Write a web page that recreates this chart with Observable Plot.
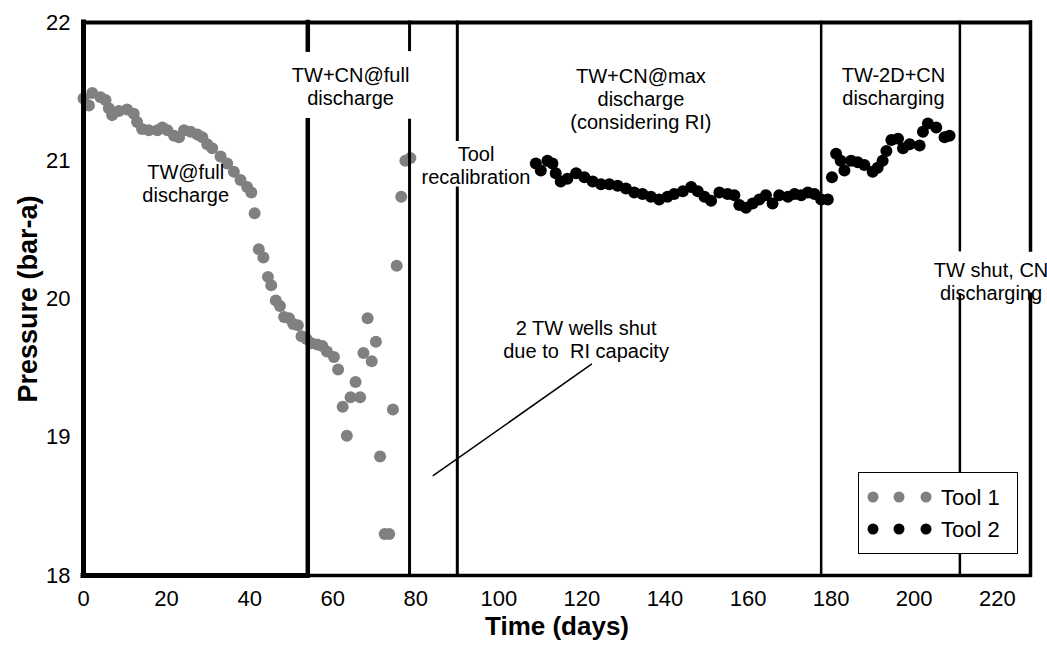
<!DOCTYPE html>
<html>
<head>
<meta charset="utf-8">
<script src="https://cdn.jsdelivr.net/npm/d3@7"></script>
<script src="https://cdn.jsdelivr.net/npm/@observablehq/plot@0.6"></script>
<style>
  html, body { margin: 0; padding: 0; background: white; }
  #wrap { position: relative; width: 1047px; height: 646px; font-family: "Liberation Sans", Arial, sans-serif; }
  #legend { position: absolute; left: 858px; top: 472px; width: 158px; height: 80px; border: 1.5px solid black; background: white; }
</style>
</head>
<body>
<div id="wrap"></div>
<script>
// ---- data ----
const tool1Days = [0, 1.3, 2.1, 4.1, 5.3, 6.1, 6.9, 8.5, 10.5, 12.1, 12.9, 14.1, 15.7, 17.8, 19.0, 20.2, 21.8, 23.0, 24.2, 25.8, 27.4, 28.6, 29.8, 31.0, 33.0, 34.6, 36.2, 37.8, 39.4, 40.4, 41.2, 42.2, 43.3, 44.4, 45.2, 46.3, 47.3, 48.3, 49.5, 50.5, 51.6, 52.5, 53.7, 54.9, 56.3, 57.5, 58.6, 60.3, 61.3, 62.4, 63.4, 64.3, 65.5, 66.6, 67.4, 68.4, 69.4, 70.4, 71.4, 72.5, 73.6, 74.5, 75.4, 76.5, 77.5, 78.7];
const tool1Pressure = [21.45, 21.40, 21.49, 21.46, 21.44, 21.38, 21.33, 21.36, 21.37, 21.34, 21.28, 21.23, 21.22, 21.22, 21.24, 21.22, 21.18, 21.17, 21.22, 21.21, 21.19, 21.17, 21.12, 21.09, 21.03, 20.98, 20.92, 20.86, 20.81, 20.77, 20.62, 20.36, 20.30, 20.16, 20.10, 19.99, 19.95, 19.87, 19.86, 19.82, 19.81, 19.73, 19.71, 19.68, 19.67, 19.66, 19.62, 19.58, 19.49, 19.22, 19.01, 19.29, 19.40, 19.29, 19.61, 19.86, 19.55, 19.69, 18.86, 18.30, 18.30, 19.20, 20.24, 20.74, 21.00, 21.02];
const tool2Days = [108.9, 110.1, 111.7, 112.9, 113.7, 114.9, 116.5, 118.6, 120.6, 122.6, 124.6, 126.6, 128.6, 130.6, 132.6, 134.6, 136.6, 138.6, 140.6, 142.2, 144.3, 146.3, 147.9, 149.5, 151.1, 153.1, 155.1, 156.7, 157.9, 159.5, 161.1, 162.7, 164.3, 165.9, 167.5, 169.6, 171.2, 172.8, 174.4, 176.0, 177.6, 179.2, 180.2, 181.2, 182.3, 183.2, 184.8, 186.4, 188.0, 190.0, 191.2, 192.4, 193.3, 194.5, 196.1, 197.3, 198.9, 201.3, 202.1, 203.3, 205.3, 207.3, 208.5];
const tool2Pressure = [20.98, 20.93, 21.00, 20.98, 20.91, 20.85, 20.87, 20.91, 20.88, 20.85, 20.83, 20.83, 20.82, 20.80, 20.77, 20.76, 20.74, 20.72, 20.74, 20.76, 20.78, 20.81, 20.78, 20.74, 20.71, 20.77, 20.76, 20.75, 20.68, 20.66, 20.69, 20.72, 20.75, 20.69, 20.75, 20.74, 20.76, 20.75, 20.77, 20.76, 20.72, 20.72, 20.88, 21.05, 21.00, 20.93, 21.00, 20.99, 20.97, 20.92, 20.95, 21.00, 21.07, 21.15, 21.16, 21.09, 21.12, 21.11, 21.21, 21.27, 21.24, 21.17, 21.18];
const seriesNames = ["Tool 1", "Tool 2"];
const seriesColors = ["#808080", "#000000"];
const xTicks = [0, 20, 40, 60, 80, 100, 120, 140, 160, 180, 200, 220];
const yTicks = [18, 19, 20, 21, 22];
const xDomain = [0, 228];
const yDomain = [18, 22];
const phaseBoundaries = [54, 78.5, 90, 177.6, 211];
const phaseLabels = [
  {x: 24.6, y: 20.84, text: "TW@full\ndischarge"},
  {x: 64.3, y: 21.54, text: "TW+CN@full\ndischarge"},
  {x: 94.5, y: 20.97, text: "Tool\nrecalibration"},
  {x: 134.2, y: 21.45, text: "TW+CN@max\ndischarge\n(considering RI)"},
  {x: 195.0, y: 21.54, text: "TW-2D+CN\ndischarging"},
  {x: 218.5, y: 20.13, text: "TW shut, CN\ndischarging"},
  {x: 121.0, y: 19.71, text: "2 TW wells shut\ndue to  RI capacity"}
];
const leader = [{x1: 122.4, y1: 19.53, x2: 84.1, y2: 18.72}];

// ---- frame segments (with gaps behind labels) ----
const vSegs = [
  {x: 0, y1: 18, y2: 22, w: 5},
  {x: phaseBoundaries[0], y1: 18, y2: 21.29, w: 4.5},
  {x: phaseBoundaries[0], y1: 21.80, y2: 22, w: 4.5},
  {x: phaseBoundaries[1], y1: 18, y2: 21.29, w: 3},
  {x: phaseBoundaries[1], y1: 21.80, y2: 22, w: 3},
  {x: phaseBoundaries[2], y1: 18, y2: 20.80, w: 3},
  {x: phaseBoundaries[2], y1: 21.15, y2: 22, w: 3},
  {x: phaseBoundaries[3], y1: 18, y2: 22, w: 2.5},
  {x: phaseBoundaries[4], y1: 18, y2: 20.03, w: 2.5},
  {x: phaseBoundaries[4], y1: 20.35, y2: 22, w: 2.5},
  {x: xDomain[1], y1: 18, y2: 20.03, w: 3.5},
  {x: xDomain[1], y1: 20.35, y2: 22, w: 3.5}
];
const hSegs = [
  {y: 22, x1: 0, x2: xDomain[1], w: 4},
  {y: 18, x1: 0, x2: phaseBoundaries[0], w: 5},
  {y: 18, x1: phaseBoundaries[0], x2: xDomain[1], w: 3.5}
];

const tool1 = tool1Days.map((d, i) => ({day: d, p: tool1Pressure[i]}));
const tool2 = tool2Days.map((d, i) => ({day: d, p: tool2Pressure[i]}));

const chart = Plot.plot({
  width: 1047,
  height: 646,
  marginLeft: 83,
  marginRight: 17,
  marginTop: 22,
  marginBottom: 71,
  style: {fontFamily: '"Liberation Sans", Arial, sans-serif', fontSize: "20px", color: "black", background: "white", overflow: "visible"},
  x: {domain: xDomain},
  y: {domain: yDomain},
  marks: [
    Plot.axisX({ticks: xTicks, tickSize: 0, tickPadding: 15, fontSize: 22, label: null, tickFormat: d => String(d)}),
    Plot.axisY({ticks: yTicks, tickSize: 0, tickPadding: 13, fontSize: 22, label: null, tickFormat: d => String(d)}),
    Plot.dot(tool1, {x: "day", y: "p", r: 6, fill: seriesColors[0], stroke: null}),
    Plot.dot(tool2, {x: "day", y: "p", r: 6, fill: seriesColors[1], stroke: null}),
    Plot.ruleX(vSegs, {x: "x", y1: "y1", y2: "y2", strokeWidth: "w", stroke: "black", strokeLinecap: "square"}),
    Plot.ruleY(hSegs, {y: "y", x1: "x1", x2: "x2", strokeWidth: "w", stroke: "black", strokeLinecap: "square"}),
    Plot.text(phaseLabels, {x: "x", y: "y", text: "text", fontSize: 20, lineHeight: 1.15, fill: "black", textAnchor: "middle"}),
    Plot.link(leader, {x1: "x1", y1: "y1", x2: "x2", y2: "y2", stroke: "black", strokeWidth: 1.5}),
    Plot.text(["Time (days)"], {frameAnchor: "bottom", dy: 51, textAnchor: "middle", lineAnchor: "middle", fontSize: 26, fontWeight: "bold", fill: "black"}),
    Plot.text(["Pressure (bar-a)"], {frameAnchor: "left", dx: -55, rotate: -90, textAnchor: "middle", lineAnchor: "middle", fontSize: 27, fontWeight: "bold", fill: "black"})
  ]
});

const wrap = document.getElementById("wrap");
wrap.appendChild(chart);

// legend (inside the plot area, as in the reference)
const legend = document.createElement("div");
legend.id = "legend";
const ns = "http://www.w3.org/2000/svg";
const lsvg = document.createElementNS(ns, "svg");
lsvg.setAttribute("width", 158);
lsvg.setAttribute("height", 80);
seriesNames.forEach((name, i) => {
  const cy = 24 + i * 32;
  [14, 40, 67].forEach(cx => {
    const c = document.createElementNS(ns, "circle");
    c.setAttribute("cx", cx); c.setAttribute("cy", cy); c.setAttribute("r", 5.5);
    c.setAttribute("fill", seriesColors[i]);
    lsvg.appendChild(c);
  });
  const t = document.createElementNS(ns, "text");
  t.setAttribute("x", 82); t.setAttribute("y", cy);
  t.setAttribute("dy", "0.36em");
  t.setAttribute("font-size", "22");
  t.setAttribute("font-family", '"Liberation Sans", Arial, sans-serif');
  t.textContent = name;
  lsvg.appendChild(t);
});
legend.appendChild(lsvg);
wrap.appendChild(legend);
</script>
</body>
</html>
